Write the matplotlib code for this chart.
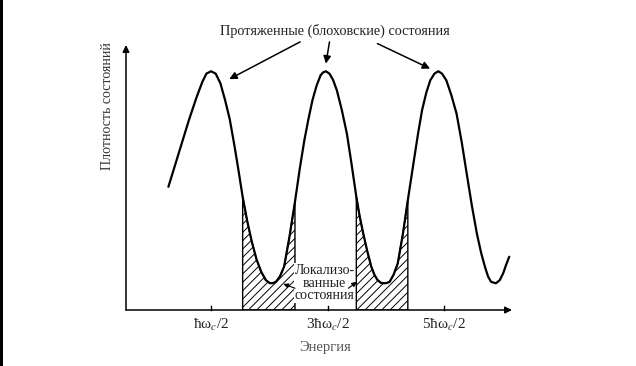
import matplotlib
matplotlib.use("Agg")
import matplotlib.pyplot as plt
import numpy as np

plt.rcParams['font.family'] = ['Liberation Serif', 'DejaVu Serif']
plt.rcParams['mathtext.fontset'] = 'stix'
plt.rcParams['hatch.linewidth'] = 0.7

# Energy in units of hbar*omega_c/2 ; density of states normalised to peak height
energy = [0.269, 0.45, 0.62, 0.75, 0.85, 0.92, 1.0, 1.08, 1.16, 1.24, 1.32, 1.40, 1.47,
          1.542, 1.62, 1.70, 1.78, 1.86, 1.94, 2.009, 2.06, 2.113, 2.18, 2.252, 2.34,
          2.439, 2.52, 2.60, 2.67, 2.739, 2.81, 2.878, 2.92, 2.969, 3.03, 3.09, 3.156,
          3.24, 3.329, 3.41, 3.491, 3.55, 3.609, 3.68, 3.748, 3.80, 3.853, 3.91, 3.957,
          4.01, 4.062, 4.13, 4.201, 4.29, 4.374, 4.479, 4.55, 4.618, 4.69, 4.759, 4.83,
          4.896, 4.96, 5.034, 5.12, 5.209, 5.30, 5.383, 5.47, 5.557, 5.63, 5.696, 5.75,
          5.801, 5.884, 5.95, 6.009, 6.06, 6.113]
dos = [0.516, 0.66, 0.795, 0.89, 0.955, 0.99, 1.0, 0.99, 0.95, 0.88, 0.80, 0.69, 0.586,
       0.474, 0.373, 0.285, 0.212, 0.16, 0.125, 0.112, 0.113, 0.118, 0.14, 0.181, 0.30,
       0.453, 0.59, 0.711, 0.80, 0.879, 0.94, 0.983, 0.995, 1.0, 0.99, 0.965, 0.921,
       0.84, 0.739, 0.61, 0.474, 0.39, 0.321, 0.245, 0.181, 0.148, 0.126, 0.114, 0.112,
       0.113, 0.118, 0.148, 0.195, 0.32, 0.460, 0.628, 0.74, 0.837, 0.91, 0.962, 0.99,
       1.0, 0.99, 0.962, 0.90, 0.823, 0.70, 0.572, 0.44, 0.321, 0.24, 0.181, 0.14,
       0.118, 0.112, 0.125, 0.154, 0.19, 0.223]

localized_bands = [(1.542, 2.439), (3.491, 4.374)]

tick_values = [1, 3, 5]
tick_labels = ['ħω$_c$/2', '3ħω$_c$/2', '5ħω$_c$/2']

title_text = 'Протяженные (блоховские) состояния'
local_text = 'Локализо-\nванные\nсостояния'
ylabel_text = 'Плотность состояний'
xlabel_text = 'Энергия'

W, H = 636, 366
fig = plt.figure(figsize=(W / 100, H / 100), dpi=100)
fig.patch.set_facecolor('white')
ax = fig.add_axes([126 / W, (H - 310) / H, (512 - 126) / W, (310 - 45) / H])
ax.set_xlim(-0.458, 6.16)
ax.set_ylim(0, 1.11)
for s in ax.spines.values():
    s.set_visible(False)
ax.set_xticks([])
ax.set_yticks([])
ax.patch.set_alpha(0)

e = np.array(energy)
d = np.array(dos)

# hatched localized regions
for a, b in localized_bands:
    m = (e >= a - 1e-9) & (e <= b + 1e-9)
    ax.fill_between(e[m], 0, d[m], facecolor='white', edgecolor='black',
                    hatch='////', linewidth=1.0, zorder=1)

ax.plot(e, d, color='black', lw=1.6, zorder=3, solid_capstyle='round',
        solid_joinstyle='round')

# axes with arrows
ax.annotate('', xy=(1.0, 0), xytext=(0, 0), xycoords='axes fraction',
            arrowprops=dict(arrowstyle='-|>', color='black', lw=1.1,
                            mutation_scale=10, shrinkA=0, shrinkB=0), annotation_clip=False)
ax.annotate('', xy=(0, 1.0), xytext=(0, 0), xycoords='axes fraction',
            arrowprops=dict(arrowstyle='-|>', color='black', lw=1.1,
                            mutation_scale=10, shrinkA=0, shrinkB=0), annotation_clip=False)

# ticks (pointing up)
for tv, tl in zip(tick_values, tick_labels):
    ax.plot([tv, tv], [0, 0.018], color='black', lw=1.0, clip_on=False)
    ax.text(tv, -0.063, tl, ha='center', va='center', fontsize=11, color='#222222')

ax.text(2.947, -0.159, xlabel_text, ha='center', va='center', fontsize=10.5, color='#555555',
        clip_on=False)
ax.text(-0.775, 0.854, ylabel_text, ha='center', va='center', rotation=90, fontsize=10,
        color='#333333', clip_on=False)

# top annotation with arrows
ax.text(3.127, 1.169, title_text, ha='center', va='center', fontsize=10.3, color='#222222',
        clip_on=False)
arrow_kw = dict(arrowstyle='-|>', color='black', lw=1.1, mutation_scale=11,
                shrinkA=0, shrinkB=0)
for tail, head in [((2.527, 1.123), (1.312, 0.967)),
                   ((3.031, 1.123), (2.969, 1.032)),
                   ((3.852, 1.116), (4.756, 1.011))]:
    ax.annotate('', xy=head, xytext=tail, arrowprops=arrow_kw, annotation_clip=False)

# localized states label
ax.text(2.947, 0.113, local_text, ha='center', va='center', fontsize=10, color='#222222',
        linespacing=0.95, zorder=5,
        bbox=dict(facecolor='white', edgecolor='none', pad=0.5))
small_kw = dict(arrowstyle='-|>', color='black', lw=0.8, mutation_scale=7,
                shrinkA=0, shrinkB=0)
ax.annotate('', xy=(2.240, 0.109), xytext=(2.441, 0.091), arrowprops=small_kw, zorder=6)
ax.annotate('', xy=(3.499, 0.118), xytext=(3.355, 0.091), arrowprops=small_kw, zorder=6)

# left dark border strip like the scan
fig.patches.append(plt.Rectangle((0, 0), 3 / W, 1, transform=fig.transFigure,
                                 facecolor='black', edgecolor='none'))

fig.savefig('out.png', dpi=100)
